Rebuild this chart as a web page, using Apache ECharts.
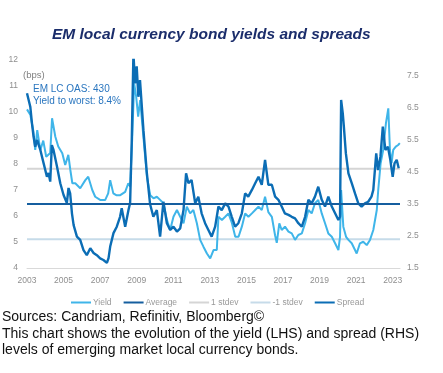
<!DOCTYPE html>
<html>
<head>
<meta charset="utf-8">
<script src="https://cdn.jsdelivr.net/npm/echarts@6/dist/echarts.min.js"></script>
<style>
html,body{margin:0;padding:0;background:#fff;}
#chart{width:443px;height:373px;}
</style>
</head>
<body>
<div id="chart"></div>
<script>
// ---- data ----
var titleText = 'EM local currency bond yields and spreads';
var xTicks = [2003, 2005, 2007, 2009, 2011, 2013, 2015, 2017, 2019, 2021, 2023];
var leftTicks = [4, 5, 6, 7, 8, 9, 10, 11, 12];
var rightTicks = [1.5, 2.5, 3.5, 4.5, 5.5, 6.5, 7.5];
var xStart = 2003, xEnd = 2023.4;

var yieldDates = [2003.00,2003.18,2003.34,2003.45,2003.56,2003.73,2003.89,2004.05,2004.27,2004.37,2004.55,2004.71,2004.93,2005.09,2005.26,2005.37,2005.48,2005.64,2005.91,2006.19,2006.35,2006.57,2006.73,2007.00,2007.28,2007.44,2007.55,2007.72,2007.88,2008.10,2008.37,2008.54,2008.64,2008.75,2008.86,2008.97,2009.08,2009.19,2009.35,2009.56,2009.74,2009.92,2010.10,2010.28,2010.46,2010.65,2010.83,2011.01,2011.20,2011.38,2011.56,2011.74,2011.92,2012.10,2012.29,2012.47,2012.65,2012.84,2013.02,2013.20,2013.38,2013.47,2013.66,2013.84,2014.02,2014.21,2014.39,2014.57,2014.75,2014.93,2015.11,2015.30,2015.48,2015.66,2015.84,2016.02,2016.20,2016.39,2016.57,2016.66,2016.80,2016.93,2017.11,2017.30,2017.48,2017.66,2017.84,2018.03,2018.21,2018.39,2018.57,2018.75,2018.93,2019.12,2019.30,2019.48,2019.67,2019.85,2020.03,2020.12,2020.18,2020.30,2020.45,2020.58,2020.76,2020.94,2021.03,2021.21,2021.39,2021.58,2021.76,2021.94,2022.13,2022.21,2022.34,2022.48,2022.63,2022.76,2022.85,2022.94,2023.03,2023.17,2023.30,2023.39];
var yieldValues = [10.1,9.9,9.3,8.54,9.3,8.54,8.9,8.28,8.42,9.76,9.05,8.67,8.41,7.96,8.35,7.77,7.26,7.26,7.07,7.38,7.51,7.0,6.74,6.62,6.62,6.87,7.38,6.87,6.8,6.8,6.93,7.26,7.13,8.92,11.1,10.6,9.82,10.46,9.18,7.5,6.8,6.68,6.74,6.62,6.49,5.85,5.46,5.97,6.23,5.97,5.72,6.36,6.1,6.23,5.72,5.08,4.82,4.56,4.37,4.69,4.69,5.97,5.85,5.97,6.1,5.72,5.2,5.2,5.59,6.1,5.97,6.1,6.23,6.36,6.23,6.74,6.15,5.97,5.25,4.97,5.72,5.46,5.59,5.4,5.33,5.08,5.27,5.33,5.72,6.23,6.1,6.49,6.62,6.1,5.72,5.33,5.2,4.95,4.69,5.2,7.0,5.59,5.2,5.08,4.95,4.69,4.56,4.95,5.01,4.88,5.08,5.46,6.23,7.0,8.03,8.54,9.56,10.14,8.54,8.03,8.54,8.67,8.73,8.8];

var spreadDates = [2003.00,2003.18,2003.27,2003.36,2003.45,2003.55,2003.73,2003.91,2004.09,2004.18,2004.27,2004.36,2004.45,2004.64,2004.82,2005.00,2005.18,2005.27,2005.36,2005.46,2005.55,2005.73,2005.91,2006.09,2006.27,2006.46,2006.64,2006.82,2007.00,2007.18,2007.37,2007.46,2007.55,2007.73,2007.91,2008.09,2008.18,2008.37,2008.55,2008.64,2008.73,2008.82,2008.91,2009.00,2009.09,2009.18,2009.37,2009.55,2009.73,2009.91,2010.10,2010.28,2010.46,2010.65,2010.83,2011.01,2011.20,2011.38,2011.56,2011.70,2011.83,2012.00,2012.20,2012.37,2012.55,2012.74,2012.92,2013.10,2013.29,2013.47,2013.65,2013.84,2014.02,2014.20,2014.38,2014.56,2014.75,2014.93,2015.10,2015.30,2015.48,2015.66,2015.84,2016.02,2016.20,2016.39,2016.57,2016.75,2016.93,2017.10,2017.30,2017.48,2017.66,2017.84,2018.03,2018.21,2018.39,2018.57,2018.75,2018.93,2019.12,2019.30,2019.48,2019.67,2019.85,2020.03,2020.12,2020.18,2020.27,2020.33,2020.44,2020.58,2020.76,2020.94,2021.12,2021.30,2021.48,2021.66,2021.84,2021.94,2022.10,2022.20,2022.33,2022.46,2022.60,2022.74,2022.87,2023.00,2023.10,2023.22,2023.33];
var spreadValues = [6.96,6.54,6.03,5.6,5.29,5.5,5.19,4.77,4.35,4.47,4.2,5.34,5.19,4.67,4.15,3.78,3.53,4.0,3.83,3.2,2.84,2.48,2.38,2.06,1.9,2.12,1.97,1.9,1.8,1.75,1.66,1.81,2.17,2.59,2.79,3.1,3.37,2.79,3.31,3.53,5.5,8.2,7.27,7.8,6.85,7.37,5.8,4.5,3.5,3.1,3.31,2.48,3.57,2.9,2.69,2.79,2.64,2.74,3.31,4.46,4.15,4.25,3.52,3.73,3.21,2.9,2.69,2.48,2.79,3.42,3.31,3.52,3.42,3.1,2.79,2.9,3.21,3.83,3.73,3.94,4.15,4.35,4.1,4.88,4.1,4.1,3.73,3.63,3.42,3.21,3.16,3.1,3.05,2.9,2.79,3.1,3.63,3.52,3.73,4.04,3.63,3.42,3.73,3.42,3.21,3.0,3.1,6.75,6.33,5.92,5.08,4.46,4.15,3.83,3.52,3.42,3.52,3.57,3.73,3.94,5.08,4.56,4.98,5.92,5.19,5.29,4.88,4.35,4.77,4.88,4.62];

var averageValue = 3.5;
var plusStdevValue = 4.6;
var minusStdevValue = 2.4;

var annotationLines = ['EM LC OAS: 430', 'Yield to worst: 8.4%'];
var unitText = '(bps)';
var footnoteLines = [
  'Sources: Candriam, Refinitiv, Bloomberg\u00a9',
  'This chart shows the evolution of the yield (LHS) and spread (RHS)',
  'levels of emerging market local currency bonds.'
];

// ---- build ----
function pairs(xs, ys) { return xs.map(function (x, i) { return [x, ys[i]]; }); }
function flat(v) { return [[xStart, v], [xEnd, v]]; }

var chart = echarts.init(document.getElementById('chart'), null, { renderer: 'canvas' });
var FONT = 'Liberation Sans, Arial, sans-serif';
var labelColor = '#8f8f8f';

var graphics = [
  { type: 'text', left: 23, top: 70, style: { text: unitText, font: '9.5px ' + FONT, fill: '#7f7f7f' } },
  { type: 'text', left: 33, top: 84, style: { text: annotationLines[0], font: '10px ' + FONT, fill: '#2a76bf' } },
  { type: 'text', left: 33, top: 96, style: { text: annotationLines[1], font: '10px ' + FONT, fill: '#2a76bf' } }
];
footnoteLines.forEach(function (t, i) {
  graphics.push({ type: 'text', left: 2, top: 310.5 + i * 16.5, style: { text: t, font: '14px ' + FONT, fill: '#111111' } });
});

chart.setOption({
  animation: false,
  backgroundColor: '#ffffff',
  title: {
    text: titleText, left: 47, top: 22,
    textStyle: { fontFamily: FONT, fontSize: 15.5, fontWeight: 'bold', fontStyle: 'italic', color: '#1b2d6b' }
  },
  grid: { left: 27, right: 43, top: 60, bottom: 105 },
  legend: {
    data: ['Yield', 'Average', '1 stdev', '-1 stdev', 'Spread'],
    top: 293, left: 66, icon: 'rect', itemWidth: 20, itemHeight: 2, itemGap: 12,
    textStyle: { fontFamily: FONT, fontSize: 8.5, color: '#999999', padding: [0, 0, 0, -3] }
  },
  xAxis: {
    type: 'value', min: xStart, max: xEnd, interval: 2,
    axisLine: { show: true, onZero: false, lineStyle: { color: '#d9d9d9', width: 1 } },
    axisTick: { show: false },
    splitLine: { show: false },
    axisLabel: {
      color: labelColor, fontFamily: FONT, fontSize: 8.5, margin: 8, showMaxLabel: false,
      formatter: function (v) { return xTicks.indexOf(Math.round(v * 10) / 10) >= 0 ? String(v) : ''; }
    }
  },
  yAxis: [
    {
      type: 'value', min: 4, max: 12, interval: 1,
      axisLine: { show: false }, axisTick: { show: false }, splitLine: { show: false },
      axisLabel: {
        color: labelColor, fontFamily: FONT, fontSize: 8.5, margin: 9,
        formatter: function (v) { return leftTicks.indexOf(v) >= 0 ? String(v) : ''; }
      }
    },
    {
      type: 'value', min: 1.5, max: 8, interval: 0.5, position: 'right',
      axisLine: { show: false }, axisTick: { show: false }, splitLine: { show: false },
      axisLabel: {
        color: labelColor, fontFamily: FONT, fontSize: 8.5, margin: 7,
        formatter: function (v) {
          var r = Math.round(v * 10) / 10;
          return rightTicks.indexOf(r) >= 0 ? r.toFixed(1) : '';
        }
      }
    }
  ],
  series: [
    { name: 'Yield', type: 'line', yAxisIndex: 0, showSymbol: false, z: 3, data: pairs(yieldDates, yieldValues),
      lineStyle: { color: '#3fb5e9', width: 2 }, itemStyle: { color: '#3fb5e9' } },
    { name: 'Average', type: 'line', yAxisIndex: 1, showSymbol: false, z: 5, data: flat(averageValue),
      lineStyle: { color: '#155e9f', width: 2 }, itemStyle: { color: '#155e9f' } },
    { name: '1 stdev', type: 'line', yAxisIndex: 1, showSymbol: false, z: 1, data: flat(plusStdevValue),
      lineStyle: { color: '#d5d5d5', width: 2 }, itemStyle: { color: '#d5d5d5' } },
    { name: '-1 stdev', type: 'line', yAxisIndex: 1, showSymbol: false, z: 1, data: flat(minusStdevValue),
      lineStyle: { color: '#c6dbe9', width: 2 }, itemStyle: { color: '#c6dbe9' } },
    { name: 'Spread', type: 'line', yAxisIndex: 1, showSymbol: false, z: 4, data: pairs(spreadDates, spreadValues),
      lineStyle: { color: '#0b6db5', width: 2.4 }, itemStyle: { color: '#0b6db5' } }
  ],
  graphic: graphics
});
</script>
</body>
</html>
